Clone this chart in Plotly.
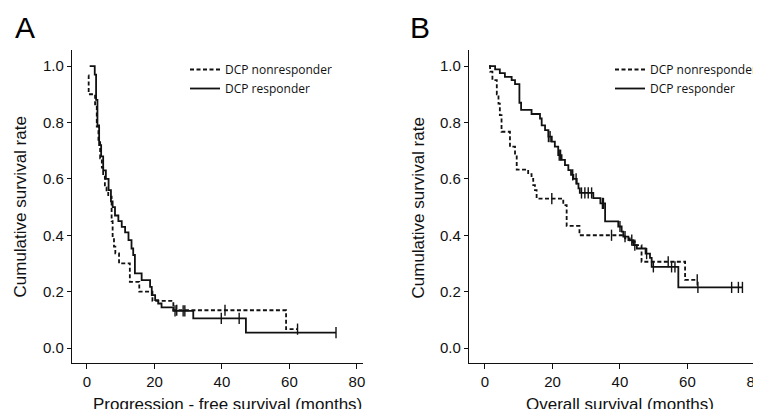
import plotly.graph_objects as go

# ---- Panel A: progression-free survival (months / cumulative survival) ----
pfs_nonresp_months = [0.4, 0.5, 2.4, 2.9, 3.4, 3.9, 4.4, 4.8, 5.3, 5.8, 6.3, 7.3, 7.6,
                      8.0, 8.4, 9.5, 12.7, 15.5, 19.4, 25.6, 59.0, 62.4]
pfs_nonresp_surv = [0.967, 0.90, 0.86, 0.785, 0.73, 0.673, 0.64, 0.61, 0.57, 0.555, 0.537,
                    0.45, 0.39, 0.36, 0.336, 0.30, 0.235, 0.20, 0.167, 0.134, 0.067, 0.067]
pfs_nonresp_cens_months = [26.6, 40.9, 62.4]
pfs_nonresp_cens_surv = [0.134, 0.134, 0.067]

pfs_resp_months = [0.8, 2.3, 2.7, 3.1, 3.6, 4.2, 4.8, 5.6, 6.4, 7.1, 7.6, 8.3, 9.3, 10.3,
                   11.3, 12.3, 13.2, 13.7, 14.2, 16.2, 18.7, 19.2, 20.2, 21.1, 22.1, 25.6,
                   31.5, 47.1, 73.8]
pfs_resp_surv = [1.0, 0.97, 0.88, 0.79, 0.72, 0.68, 0.63, 0.60, 0.56, 0.52, 0.50, 0.47,
                 0.45, 0.43, 0.41, 0.383, 0.353, 0.33, 0.265, 0.241, 0.217, 0.188, 0.17,
                 0.158, 0.144, 0.132, 0.105, 0.055, 0.055]
pfs_resp_cens_months = [26.1, 28.5, 29.0, 39.8, 45.1, 73.8]
pfs_resp_cens_surv = [0.132, 0.132, 0.132, 0.105, 0.105, 0.055]

# ---- Panel B: overall survival ----
os_nonresp_months = [1.2, 1.5, 2.2, 3.5, 4.0, 4.4, 4.9, 7.4, 8.9, 9.4, 12.8, 13.8, 14.3,
                     14.8, 15.3, 23.2, 24.2, 28.0, 41.5, 42.9, 44.4, 46.4, 59.3, 62.9]
os_nonresp_surv = [1.0, 0.98, 0.95, 0.90, 0.867, 0.826, 0.767, 0.714, 0.684, 0.633, 0.617,
                   0.60, 0.578, 0.56, 0.53, 0.507, 0.433, 0.40, 0.389, 0.377, 0.365, 0.306,
                   0.242, 0.242]
os_nonresp_cens_months = [19.8, 37.5, 54.3, 62.9]
os_nonresp_cens_surv = [0.53, 0.40, 0.306, 0.242]

os_resp_months = [1.2, 3.0, 4.4, 5.9, 7.9, 8.9, 10.2, 10.7, 13.8, 16.3, 16.8, 17.8, 18.8,
                  19.8, 20.7, 21.7, 22.7, 23.7, 24.7, 25.5, 26.2, 27.2, 27.7, 28.1, 32.1,
                  34.2, 35.6, 39.5, 40.5, 41.0, 42.5, 43.9, 45.0, 47.6, 48.9, 49.4, 57.3,
                  76.3]
os_resp_surv = [1.0, 0.988, 0.975, 0.962, 0.95, 0.936, 0.87, 0.845, 0.83, 0.814, 0.79,
                0.773, 0.75, 0.732, 0.714, 0.684, 0.667, 0.649, 0.631, 0.614, 0.60, 0.583,
                0.566, 0.55, 0.532, 0.513, 0.449, 0.431, 0.413, 0.395, 0.383, 0.365, 0.353,
                0.335, 0.32, 0.288, 0.215, 0.215]
os_resp_cens_months = [18.8, 19.3, 22.0, 22.4, 26.0, 27.0, 28.6, 29.6, 30.6, 31.6, 34.8,
                       35.1, 40.0, 41.5, 43.5, 44.4, 47.9, 49.9, 55.3, 56.3, 63.1, 73.1,
                       75.1, 76.3]
os_resp_cens_surv = [0.75, 0.75, 0.684, 0.684, 0.614, 0.60, 0.55, 0.55, 0.55, 0.55, 0.513,
                     0.513, 0.431, 0.395, 0.383, 0.365, 0.335, 0.288, 0.288, 0.288, 0.215,
                     0.215, 0.215, 0.215]

GROUPS = ["DCP nonresponder", "DCP responder"]
X_TICKS = [0, 20, 40, 60, 80]
Y_TICKS = [0.0, 0.2, 0.4, 0.6, 0.8, 1.0]

INK = "#111111"
DASH = "4px,2.5px"
AXIS_FONT = "Arial, Liberation Sans, sans-serif"
LEGEND_FONT = "Open Sans, Noto Sans, sans-serif"

# the page body keeps its default 8px margin, so the figure is 8px smaller
W, H = 753, 401

fig = go.Figure()


def add_km(xref, yref, legend, months, surv, cens_m, cens_s, name, dash):
    fig.add_trace(go.Scatter(
        x=months, y=surv, mode="lines", line_shape="hv", name=name,
        line=dict(color=INK, width=1.8, dash=dash),
        xaxis=xref, yaxis=yref, legend=legend, hoverinfo="skip"))
    fig.add_trace(go.Scatter(
        x=cens_m, y=cens_s, mode="markers", showlegend=False,
        marker=dict(symbol="line-ns-open", size=8, color=INK,
                    line=dict(color=INK, width=1.4)),
        xaxis=xref, yaxis=yref, hoverinfo="skip"))


add_km("x", "y", "legend", pfs_nonresp_months, pfs_nonresp_surv,
       pfs_nonresp_cens_months, pfs_nonresp_cens_surv, GROUPS[0], DASH)
add_km("x", "y", "legend", pfs_resp_months, pfs_resp_surv,
       pfs_resp_cens_months, pfs_resp_cens_surv, GROUPS[1], "solid")
add_km("x2", "y2", "legend2", os_nonresp_months, os_nonresp_surv,
       os_nonresp_cens_months, os_nonresp_cens_surv, GROUPS[0], DASH)
add_km("x2", "y2", "legend2", os_resp_months, os_resp_surv,
       os_resp_cens_months, os_resp_cens_surv, GROUPS[1], "solid")

y_dom = [46 / H, 359 / H]
axis_common = dict(
    showline=True, linecolor=INK, linewidth=1.3, showgrid=False, zeroline=False,
    ticks="outside", tickwidth=1.2, tickcolor=INK, ticklabeloverflow="allow",
    tickfont=dict(family=AXIS_FONT, size=15, color=INK),
)
legend_common = dict(
    font=dict(family=LEGEND_FONT, size=12, color=INK),
    bgcolor="rgba(0,0,0,0)", xanchor="left", yanchor="top", tracegroupgap=0,
)

fig.update_layout(
    width=W, height=H,
    margin=dict(l=0, r=0, t=0, b=0, autoexpand=False),
    paper_bgcolor="white", plot_bgcolor="white",
    xaxis=dict(domain=[64 / W, 355 / W], range=[-4.44, 81.8], tickvals=X_TICKS,
               ticklen=5, anchor="y", **axis_common),
    yaxis=dict(domain=y_dom, range=[-0.053, 1.057], tickvals=Y_TICKS, tickformat=".1f",
               ticklen=4, anchor="x", **axis_common),
    xaxis2=dict(domain=[461 / W, 1.0], range=[-4.74, 81.8], tickvals=X_TICKS,
                ticklen=5, anchor="y2", **axis_common),
    yaxis2=dict(domain=y_dom, range=[-0.053, 1.057], tickvals=Y_TICKS, tickformat=".1f",
                ticklen=4, anchor="x2", **axis_common),
    legend=dict(x=177 / W, y=1 - 47 / H, **legend_common),
    legend2=dict(x=602 / W, y=1 - 47 / H, **legend_common),
    showlegend=True,
)

# panel letters and axis titles
title_font = dict(family=AXIS_FONT, size=17, color=INK)
for letter, px in (("A", 17), ("B", 412)):
    fig.add_annotation(text=letter, x=px / W, y=1 - 19 / H, xref="paper", yref="paper",
                       xanchor="center", yanchor="middle", showarrow=False,
                       font=dict(family=AXIS_FONT, size=30, color="black"))
for label, px in (("Progression - free survival (months)", 219.5),
                  ("Overall survival (months)", 612)):
    fig.add_annotation(text=label, x=px / W, y=1 - 385 / H, xref="paper", yref="paper",
                       xanchor="center", yanchor="top", showarrow=False, font=title_font)
for px in (12, 410):
    fig.add_annotation(text="Cumulative survival rate", x=px / W, y=1 - 199.5 / H,
                       xref="paper", yref="paper", xanchor="center", yanchor="middle",
                       textangle=-90, showarrow=False, font=title_font)

fig.write_html("out.html")
